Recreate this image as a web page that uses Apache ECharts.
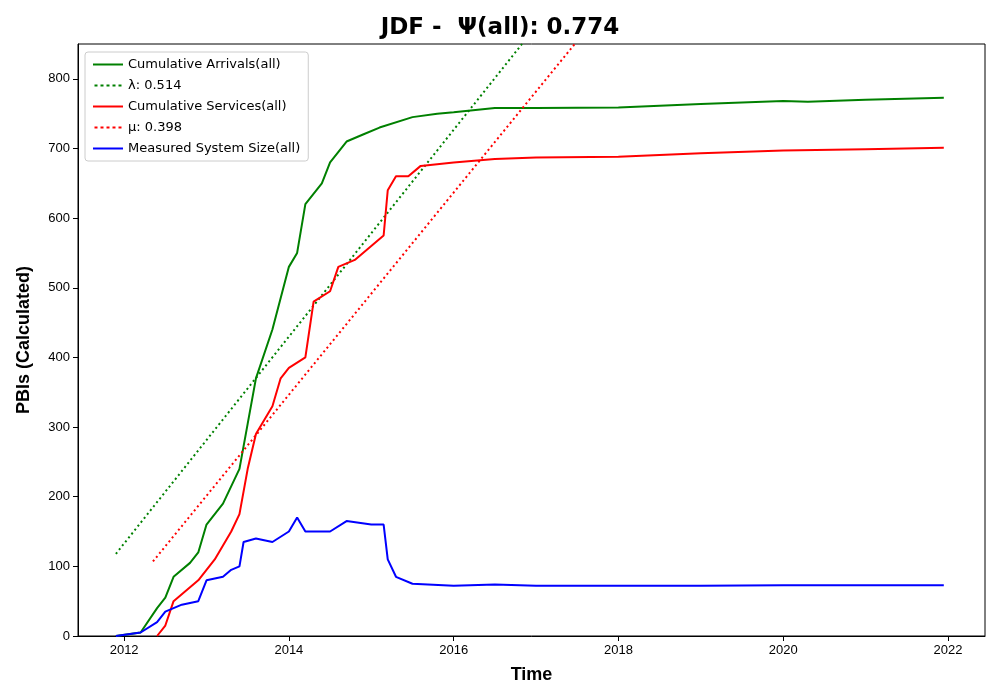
<!DOCTYPE html>
<html>
<head>
<meta charset="utf-8">
<script src="https://cdn.jsdelivr.net/npm/echarts@6/dist/echarts.min.js"></script>
<style>body{margin:0}#c{width:1000px;height:700px}</style>
</head>
<body>
<div id="c"></div>
<script>
// data (x = decimal year)
var arrivals = [[2011.9,0],[2012.2,5],[2012.4,40],[2012.5,55],[2012.6,85],[2012.8,105],[2012.9,120],[2013.0,160],[2013.2,190],[2013.4,240],[2013.5,305],[2013.6,370],[2013.8,440],[2014.0,530],[2014.1,550],[2014.2,620],[2014.4,650],[2014.5,680],[2014.7,710],[2014.9,720],[2015.1,730],[2015.5,745],[2015.8,750],[2016.0,752],[2016.5,758],[2017,758],[2018,759],[2019,764],[2020,768],[2020.3,767],[2021,770],[2021.95,773]];
var services = [[2012.4,0],[2012.5,15],[2012.6,50],[2012.9,80],[2013.1,110],[2013.3,150],[2013.4,175],[2013.5,240],[2013.6,290],[2013.8,330],[2013.9,370],[2014.0,385],[2014.2,400],[2014.3,480],[2014.5,495],[2014.6,530],[2014.8,540],[2015.0,560],[2015.15,575],[2015.2,640],[2015.3,660],[2015.45,660],[2015.6,675],[2016,680],[2016.5,685],[2017,687],[2018,688],[2019,693],[2020,697],[2021,699],[2021.95,701]];
var systemSize = [[2011.9,0],[2012.2,5],[2012.4,20],[2012.5,35],[2012.7,45],[2012.9,50],[2013.0,80],[2013.2,85],[2013.3,95],[2013.4,100],[2013.45,135],[2013.6,140],[2013.8,135],[2014.0,150],[2014.1,170],[2014.2,150],[2014.5,150],[2014.7,165],[2015.0,160],[2015.15,160],[2015.2,110],[2015.3,85],[2015.5,75],[2016.0,72],[2016.5,74],[2017,72],[2018,72],[2019,72],[2020,73],[2021.95,73]];
var lambdaLine = [[2011.9,118],[2016.83,850]];
var muLine = [[2012.35,107],[2017.47,850]];
var yearTicks = [2012,2014,2016,2018,2020,2022];

var dotIcon = 'path://M0,0h3v2h-3zM6,0h3v2h-3zM12,0h3v2h-3zM18,0h3v2h-3zM24,0h3v2h-3z';
var myChart = echarts.init(document.getElementById('c'));
var option = {
    animation: false,
    title: {
        text: 'JDF -  Ψ(all): 0.774', left: 'center', top: 12,
        textStyle: {fontSize: 23, fontWeight: 'bold', color: '#000', fontFamily: 'DejaVu Sans'}
    },
    legend: {
        orient: 'vertical', left: 85, top: 52, itemWidth: 30, itemHeight: 2, itemGap: 8,
        borderColor: '#ccc', borderWidth: 1, borderRadius: 3, padding: [6, 8], backgroundColor: '#fff',
        textStyle: {fontSize: 13, color: '#000', fontFamily: 'DejaVu Sans'},
        data: [
            {name: 'Cumulative Arrivals(all)', icon: 'rect'},
            {name: 'λ: 0.514', icon: dotIcon, itemStyle: {color: 'green'}},
            {name: 'Cumulative Services(all)', icon: 'rect'},
            {name: 'μ: 0.398', icon: dotIcon, itemStyle: {color: 'red'}},
            {name: 'Measured System Size(all)', icon: 'rect'}
        ]
    },
    grid: {left: 78, right: 15, top: 44, bottom: 64, show: true, borderColor: '#000', borderWidth: 1},
    xAxis: {
        type: 'value', min: 2011.44, max: 2022.45,
        name: 'Time', nameLocation: 'middle', nameGap: 30,
        nameTextStyle: {fontSize: 18, fontWeight: 'bold', color: '#000'},
        axisLine: {lineStyle: {color: '#000'}},
        axisTick: {customValues: yearTicks, lineStyle: {color: '#000'}},
        axisLabel: {customValues: yearTicks, color: '#000', fontSize: 13, formatter: function (v) { return String(v); }},
        splitLine: {show: false}
    },
    yAxis: {
        type: 'value', min: 0, max: 850, interval: 100,
        name: 'PBIs (Calculated)', nameLocation: 'middle', nameGap: 45,
        nameTextStyle: {fontSize: 18, fontWeight: 'bold', color: '#000'},
        axisLine: {show: true, lineStyle: {color: '#000'}},
        axisTick: {show: true, lineStyle: {color: '#000'}},
        axisLabel: {color: '#000', fontSize: 13, showMaxLabel: false},
        splitLine: {show: false}
    },
    series: [
        {name: 'Cumulative Arrivals(all)', type: 'line', showSymbol: false, data: arrivals, color: 'green', lineStyle: {width: 2}},
        {name: 'λ: 0.514', type: 'line', showSymbol: false, data: lambdaLine, color: 'green', lineStyle: {width: 2, type: [2, 3]}},
        {name: 'Cumulative Services(all)', type: 'line', showSymbol: false, data: services, color: 'red', lineStyle: {width: 2}},
        {name: 'μ: 0.398', type: 'line', showSymbol: false, data: muLine, color: 'red', lineStyle: {width: 2, type: [2, 3]}},
        {name: 'Measured System Size(all)', type: 'line', showSymbol: false, data: systemSize, color: 'blue', lineStyle: {width: 2}}
    ]
};
myChart.setOption(option);
</script>
</body>
</html>
